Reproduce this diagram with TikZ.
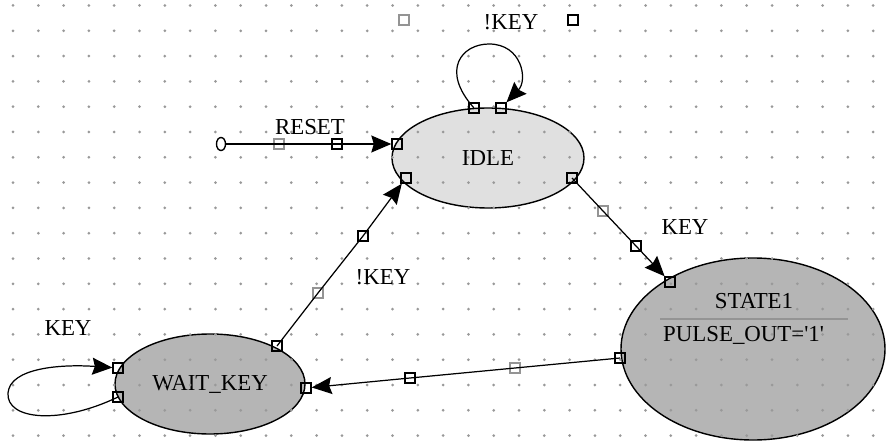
\documentclass[tikz,border=0pt]{standalone}
\usepackage{fontspec}
\setmainfont{Liberation Serif}
\usepackage{tikz}
\usetikzlibrary{arrows.meta,shapes.geometric}

\definecolor{idlefill}{gray}{0.88}
\definecolor{statefill}{gray}{0.71}
\definecolor{griddot}{gray}{0.6}
\definecolor{hndgray}{gray}{0.58}

\tikzset{
    stnode/.style={draw, ellipse, inner sep=0pt, line width=0.8pt},
    hnd/.style={draw, rectangle, minimum size=2mm, inner sep=0pt, line width=0.8pt},
    hndg/.style={hnd, draw=hndgray},
    trans/.style={line width=0.7pt},
    arr/.style={-{Stealth[length=4mm,width=3.4mm,inset=0.5mm]}},
}

\begin{document}
\begin{tikzpicture}[x=0.2mm, y=-0.2mm, font=\fontsize{13}{15}\selectfont]
    \useasboundingbox (0,0) rectangle (889,441);
    %%states
    \node[stnode, fill=idlefill, minimum width=38.4mm, minimum height=20mm] (idle) at (488,158) {IDLE};
    \node[stnode, fill=statefill, minimum width=52.8mm, minimum height=36.4mm] (state1) at (753,349) {};
    \node[stnode, fill=statefill, minimum width=38mm, minimum height=20mm] (waitkey) at (210,384) {WAIT\_KEY};
    %%grid
    \foreach \i in {0,...,34}
        \foreach \j in {0,...,17}
            \fill[griddot] (13+25.3*\i,5.5+25.3*\j) circle (1.5);
    %%state1_body
    \node (s1name) at (754,301) {STATE1};
    \draw[hndgray, line width=0.9pt] (660,319) -- (848,319);
    \node[anchor=west] (s1out) at (657,335) {PULSE\_OUT=\textquotesingle 1\textquotesingle};
    %%handles
    \node[hndg] (tq1) at (404,20) {};
    \node[hnd] (tq2) at (573,20) {};
    \node[hnd] (il1) at (474,108) {};
    \node[hnd] (il2) at (501,108) {};
    \node[draw, ellipse, minimum width=1.8mm, minimum height=2.6mm, inner sep=0pt, line width=0.8pt] (rst) at (221,144) {};
    \node[hndg] (rh1) at (279,144) {};
    \node[hnd] (rh2) at (337,144) {};
    \node[hnd] (rh3) at (397,144) {};
    \node[hnd] (ks0) at (572,178) {};
    \node[hndg] (ks1) at (603,211) {};
    \node[hnd] (ks2) at (636,246) {};
    \node[hnd] (ks3) at (670,282) {};
    \node[hnd] (sw0) at (620,358) {};
    \node[hndg] (sw1) at (515,368) {};
    \node[hnd] (sw2) at (410,378) {};
    \node[hnd] (sw3) at (306,388) {};
    \node[hnd] (wi0) at (277,346) {};
    \node[hndg] (wi1) at (318,293) {};
    \node[hnd] (wi2) at (363,236) {};
    \node[hnd] (wi3) at (406,178) {};
    \node[hnd] (wl1) at (118,368) {};
    \node[hnd] (wl2) at (118,397) {};
    %%transitions
    \draw[trans, arr] (rst.east) -- (rh1.center) -- (rh2.center) -- (rh3);
    \draw[trans, arr] (il1.center) .. controls (440,70) and (462,44) .. (489,44)
        .. controls (522,44) and (528,80) .. (il2);
    \draw[trans, arr] (ks0.center) -- (ks1.center) -- (ks2.center) -- (ks3);
    \draw[trans, arr] (sw0.center) -- (sw1.center) -- (sw2.center) -- (sw3);
    \draw[trans, arr] (wi0.center) -- (wi1.center) -- (wi2.center) -- (wi3);
    \draw[trans, arr] (wl2.center) .. controls (60,425) and (6,420) .. (8,393)
        .. controls (10,368) and (60,364) .. (wl1);
    %%labels
    \node (lil) at (511,22) {!KEY};
    \node (lrst) at (310,127) {RESET};
    \node (lks) at (685,227) {KEY};
    \node (lwi) at (383,277) {!KEY};
    \node (lwl) at (68,328) {KEY};
\end{tikzpicture}
\end{document}
